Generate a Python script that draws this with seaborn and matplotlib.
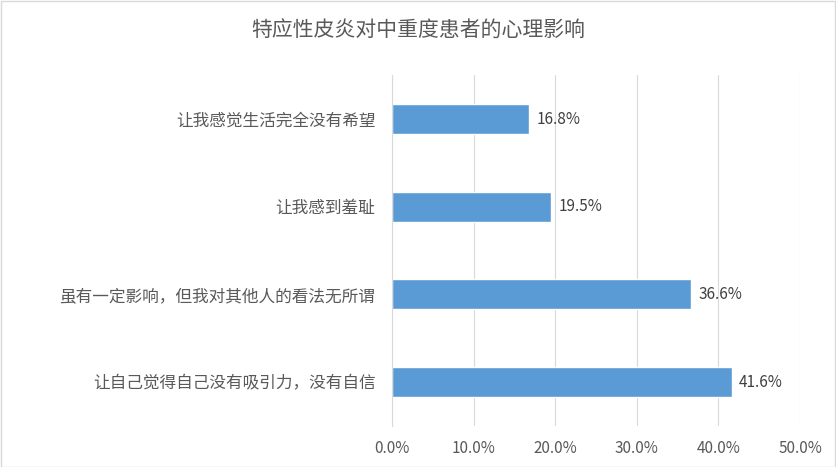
import matplotlib
matplotlib.use("Agg")
import matplotlib.pyplot as plt
import seaborn as sns
import pandas as pd

categories = ["让我感觉生活完全没有希望", "让我感到羞耻", "虽有一定影响，但我对其他人的看法无所谓", "让自己觉得自己没有吸引力，没有自信"]
values = [16.8, 19.5, 36.6, 41.6]
ticks = [0, 10, 20, 30, 40, 50]
title = "特应性皮炎对中重度患者的心理影响"

sns.set_style("white")
plt.rcParams['font.family'] = ['Noto Sans CJK SC', 'DejaVu Sans']
df = pd.DataFrame({"cat": categories, "val": values})

fig = plt.figure(figsize=(8.36, 4.67), dpi=100)
ax = fig.add_axes([0.469, 0.088, 0.488, 0.751])
sns.barplot(data=df, y="cat", x="val", orient="h", color="#5B9BD5", width=0.34, saturation=1, ax=ax)
ax.set_xlim(0, 50)
ax.set_ylim(3.5, -0.5)
ax.set_xticks(ticks)
ax.set_xticklabels([f"{t:.1f}%" for t in ticks], color="#595959", fontsize=11)
ax.tick_params(axis="y", labelsize=12, labelcolor="#595959", length=0, pad=12)
ax.tick_params(axis="x", length=0, pad=10)
ax.set_xlabel(""); ax.set_ylabel("")
ax.grid(axis="x", color="#D9D9D9", linewidth=0.8)
ax.set_axisbelow(True)
for s in ["top", "right", "bottom"]:
    ax.spines[s].set_visible(False)
ax.spines["left"].set_color("#D9D9D9")
for i, v in enumerate(values):
    ax.text(v + 0.9, i, f"{v:.1f}%", va="center", ha="left", fontsize=11, color="#404040")
fig.text(0.5, 0.935, title, ha="center", va="center", fontsize=15, color="#595959")
fig.patches.append(plt.Rectangle((0.001, 0.001), 0.998, 0.997, transform=fig.transFigure,
                                 fill=False, edgecolor="#D9D9D9", linewidth=1))
fig.savefig("out.png", dpi=100)
